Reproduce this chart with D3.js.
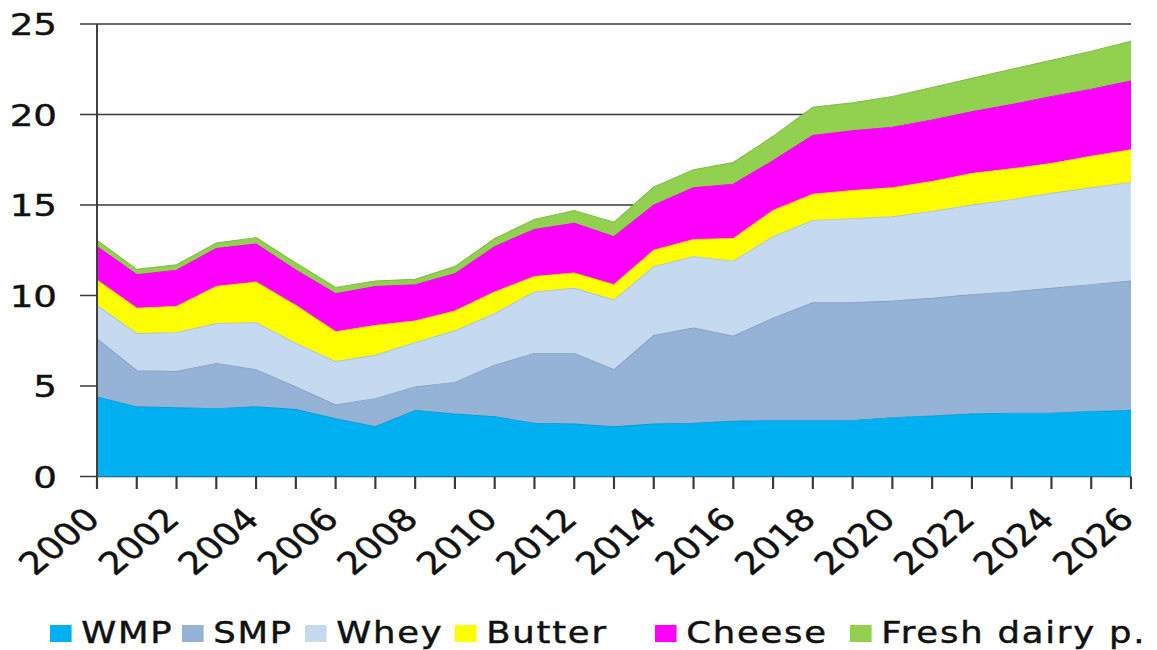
<!DOCTYPE html>
<html>
<head>
<meta charset="utf-8">
<script src="https://cdn.jsdelivr.net/npm/d3@7"></script>
<style>
  html, body { margin: 0; padding: 0; background: #fff; overflow: hidden; }
  svg { display: block; }
  text { font-family: "DejaVu Sans", Verdana, sans-serif; fill: #111; stroke: #111; stroke-width: 0.45; }
</style>
</head>
<body>
<svg id="chart"></svg>
<script>
// Dairy product volumes by year (stacked), million tonnes
const years = [2000,2001,2002,2003,2004,2005,2006,2007,2008,2009,2010,2011,2012,2013,
               2014,2015,2016,2017,2018,2019,2020,2021,2022,2023,2024,2025,2026];
const wmp    = [4.4,3.85,3.8,3.75,3.85,3.7,3.2,2.75,3.65,3.45,3.3,2.95,2.9,2.75,2.9,2.95,3.05,3.1,3.1,3.1,3.25,3.35,3.45,3.5,3.5,3.6,3.65];
const smp    = [3.2,2.0,2.0,2.5,2.05,1.25,0.75,1.55,1.3,1.75,2.85,3.85,3.9,3.15,4.9,5.25,4.7,5.65,6.5,6.5,6.45,6.5,6.6,6.7,6.9,7.0,7.15];
const whey   = [1.85,2.05,2.15,2.2,2.6,2.4,2.4,2.4,2.45,2.85,2.85,3.4,3.6,3.85,3.8,3.95,4.15,4.5,4.55,4.65,4.65,4.8,4.95,5.1,5.25,5.35,5.45];
const butter = [1.4,1.4,1.45,2.05,2.25,2.1,1.65,1.65,1.2,1.1,1.2,0.85,0.85,0.85,0.9,0.95,1.25,1.45,1.45,1.55,1.6,1.65,1.75,1.7,1.65,1.75,1.8];
const cheese = [1.85,1.85,2.0,2.1,2.1,1.95,2.1,2.15,2.0,2.05,2.5,2.6,2.75,2.65,2.5,2.85,3.0,2.75,3.25,3.3,3.35,3.4,3.4,3.55,3.7,3.7,3.8];
const fresh  = [0.35,0.3,0.3,0.3,0.35,0.4,0.35,0.3,0.3,0.4,0.45,0.55,0.7,0.8,1.0,1.0,1.2,1.35,1.55,1.55,1.7,1.8,1.85,1.95,2.0,2.1,2.2];

const seriesNames  = ["WMP", "SMP", "Whey", "Butter", "Cheese", "Fresh dairy p."];
const seriesValues = [wmp, smp, whey, butter, cheese, fresh];
const seriesColors = ["#00b0f0", "#95b3d7", "#c5d9f1", "#ffff00", "#ff00ff", "#92d050"];
const yTicks = [0, 5, 10, 15, 20, 25];
const xTicks = years;
const xLabels = years.filter(y => y % 2 === 0);

// The drawing is laid out on a horizontally widened canvas
const W = 1157, H = 650, SX = 1.2;
const VW = W / SX;
const svg = d3.select("#chart")
  .attr("width", W).attr("height", H)
  .attr("viewBox", `0 0 ${VW} ${H}`)
  .attr("preserveAspectRatio", "none");

const plotLeft = 97 / SX, plotRight = 1131 / SX, plotTop = 24, plotBottom = 476.5;
const x = d3.scaleLinear().domain([2000, 2026]).range([plotLeft, plotRight]);
const y = d3.scaleLinear().domain([0, 25]).range([plotBottom, plotTop]);

// Table for the stack layout
const table = years.map((yr, i) => {
  const row = { year: yr };
  seriesNames.forEach((n, k) => row[n] = seriesValues[k][i]);
  return row;
});
const stacked = d3.stack().keys(seriesNames)(table);

// Horizontal grid lines (with left tick extensions)
svg.append("g").selectAll("line").data(yTicks).join("line")
  .attr("x1", 80 / SX).attr("x2", plotRight)
  .attr("y1", d => y(d)).attr("y2", d => y(d))
  .attr("stroke", "#3a3a3a").attr("stroke-width", 1.6);

// Stacked areas
const area = d3.area()
  .x(d => x(d.data.year))
  .y0(d => y(d[0]))
  .y1(d => y(d[1]));
svg.append("g").selectAll("path").data(stacked).join("path")
  .attr("d", area)
  .attr("fill", (d, i) => seriesColors[i]);

// Thin darker outline along each layer's upper edge
const topLine = d3.line().x(d => x(d.data.year)).y(d => y(d[1]));
svg.append("g").selectAll("path").data(stacked).join("path")
  .attr("d", topLine)
  .attr("fill", "none")
  .attr("stroke", (d, i) => d3.color(seriesColors[i]).darker(0.35))
  .attr("stroke-width", 0.9);

// Vertical axis line
svg.append("line")
  .attr("x1", plotLeft).attr("x2", plotLeft).attr("y1", plotTop).attr("y2", plotBottom)
  .attr("stroke", "#3a3a3a").attr("stroke-width", 1.6);

// Y tick labels
svg.append("g").selectAll("text").data(yTicks).join("text")
  .attr("x", 57 / SX).attr("y", d => y(d))
  .attr("dy", "0.36em")
  .attr("text-anchor", "end")
  .attr("font-size", 31)
  .text(d => d);

// X ticks (every year)
svg.append("g").selectAll("line").data(xTicks).join("line")
  .attr("x1", d => x(d)).attr("x2", d => x(d))
  .attr("y1", plotBottom).attr("y2", 489)
  .attr("stroke", "#3a3a3a").attr("stroke-width", 1.8);

// X labels, rotated
svg.append("g").selectAll("text").data(xLabels).join("text")
  .attr("transform", d => `translate(${x(d) + 4},521) rotate(-45)`)
  .attr("text-anchor", "end")
  .attr("font-size", 31)
  .text(d => d);

// Legend: one swatch + label per series
const legendX = [50, 182, 305, 455, 655, 850].map(v => v / SX);
const legend = svg.append("g");
seriesNames.forEach((n, i) => {
  legend.append("rect")
    .attr("x", legendX[i]).attr("y", 625)
    .attr("width", 18).attr("height", 17)
    .attr("fill", seriesColors[i]);
  legend.append("text")
    .attr("x", legendX[i] + 26).attr("y", 643)
    .attr("font-size", 29.5)
    .attr("letter-spacing", 1.5)
    .text(n);
});
</script>
</body>
</html>
